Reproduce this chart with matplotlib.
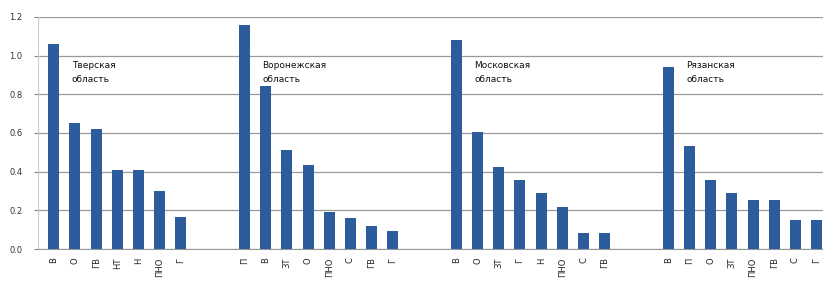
import matplotlib.pyplot as plt
import numpy as np

# four regions, bars in order of the source chart (labels are hard to read in the scan)
regions = ["Тверская\nобласть", "Воронежская\nобласть", "Московская\nобласть", "Рязанская\nобласть"]

tver_labels = ["В", "О", "ГВ", "НТ", "Н", "ПНО", "Г"]
tver_values = [1.06, 0.65, 0.62, 0.41, 0.41, 0.30, 0.165]

voronezh_labels = ["П", "В", "ЗТ", "О", "ПНО", "С", "ГВ", "Г"]
voronezh_values = [1.16, 0.845, 0.51, 0.435, 0.19, 0.16, 0.12, 0.093]

moscow_labels = ["В", "О", "ЗТ", "Г", "Н", "ПНО", "С", "ГВ"]
moscow_values = [1.08, 0.605, 0.425, 0.357, 0.29, 0.218, 0.083, 0.083]

ryazan_labels = ["В", "П", "О", "ЗТ", "ПНО", "ГВ", "С", "Г"]
ryazan_values = [0.94, 0.535, 0.357, 0.29, 0.255, 0.255, 0.15, 0.15]

groups = [
    (tver_labels, tver_values),
    (voronezh_labels, voronezh_values),
    (moscow_labels, moscow_values),
    (ryazan_labels, ryazan_values),
]

bar_color = "#2c5c9c"
gap = 2  # empty category slots between regions

fig = plt.figure(figsize=(8.23, 2.91), dpi=100)
ax = fig.add_axes([0.046, 0.144, 0.954, 0.798])

pos = 0
ticks, tick_labels = [], []
for (labels, values), name in zip(groups, regions):
    x = np.arange(pos, pos + len(labels))
    ax.bar(x, values, width=0.52, color=bar_color, zorder=3)
    ticks.extend(x)
    tick_labels.extend(labels)
    ax.text(x[0] + 0.85, 0.97, name, fontsize=6.5, color="#111111",
            va="top", ha="left", linespacing=1.6, zorder=4)
    pos += len(labels) + gap

ax.set_xlim(-0.75, 36.3)
ax.set_ylim(0, 1.2)
ax.set_yticks(np.arange(0, 1.21, 0.2))
ax.set_yticklabels(["%.1f" % v for v in np.arange(0, 1.21, 0.2)], fontsize=6, color="#333333")
ax.set_xticks(ticks)
ax.set_xticklabels(tick_labels, rotation=90, fontsize=6, color="#222222")
ax.tick_params(axis="x", length=0, pad=6)
ax.tick_params(axis="y", length=3, color="#888888", pad=8)

ax.grid(axis="y", color="#9a9a9a", linewidth=0.9, zorder=0)
for s in ["top", "right"]:
    ax.spines[s].set_visible(False)
ax.spines["left"].set_color("#cccccc")
ax.spines["bottom"].set_color("#999999")

fig.savefig("out.png", dpi=100)
